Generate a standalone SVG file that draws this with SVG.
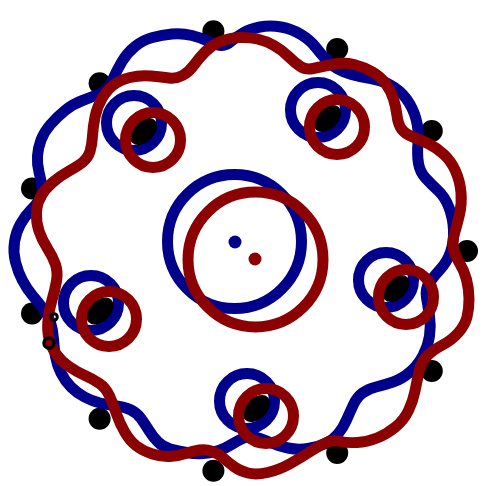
<svg xmlns="http://www.w3.org/2000/svg" width="486" height="486" viewBox="0 0 486 486">
<style>
.b{fill:none;stroke:#00008b;stroke-width:11}
.r{fill:none;stroke:#8b0000;stroke-width:11}
.k{fill:#000}
.m{fill:none;stroke:#000}
</style>
<rect width="486" height="486" fill="#fff"/>
<g id="dots" class="k">
<circle cx="467" cy="251" r="11"/>
<circle cx="431.8" cy="371" r="11"/>
<circle cx="337.2" cy="452.9" r="11"/>
<circle cx="213.4" cy="470.7" r="11"/>
<circle cx="99.6" cy="418.8" r="11"/>
<circle cx="32" cy="313.5" r="11"/>
<circle cx="32" cy="188.5" r="11"/>
<circle cx="99.6" cy="83.2" r="11"/>
<circle cx="213.4" cy="31.3" r="11"/>
<circle cx="337.2" cy="49.1" r="11"/>
<circle cx="431.8" cy="131" r="11"/>
</g>
<g id="blue">
<path class="b" d="M100,93.5 Q108,90 112.5,80 Q117,70 122,61.5 Q127,53 135,46.5 Q143,40 152.5,37.5 Q162,35 172,34 Q182,33 192,35.5 Q202,38 209,41.5 Q216,45 221,45.5 Q226,46 231,41.5 Q236,37 243,33 Q250,29 260,27 Q270,25 281,27 Q292,29 301,34.5 Q310,40 315.5,47 Q321,54 326,59.5 Q331,65 337,68.5 Q343,72 351.5,74.5 Q360,77 370.5,78.5 Q381,80 390.5,85 Q400,90 406.5,99 Q413,108 416,119 Q419,130 418,142.5 Q417,155 418.5,163.5 Q420,172 425.5,178 Q431,184 438,190.5 Q445,197 449,207.5 Q453,218 453.5,230 Q454,242 450.5,252 Q447,262 440.5,269 Q434,276 429.5,282.5 Q425,289 426.5,297.5 Q428,306 429.5,316 Q431,326 429.5,336 Q428,346 423,355.5 Q418,365 410,372 Q402,379 393,382 Q384,385 376,387 Q368,389 362.5,393 Q357,397 353.5,404.5 Q350,412 346.5,420 Q343,428 338,434 Q333,440 325.5,443.5 Q318,447 308,448.5 Q298,450 288,448 Q278,446 269,442 Q260,438 254,437 Q248,436 242.5,438.5 Q237,441 231.5,444.5 Q226,448 219,450.5 Q212,453 203.5,453.5 Q195,454 186.5,452.5 Q178,451 170.5,449 Q163,447 158,442 Q153,437 149,430.5 Q145,424 141,418.5 Q137,413 131,410 Q125,407 116.5,406 Q108,405 100,403 Q92,401 84.5,397 Q77,393 71,387 Q65,381 61,373 Q57,365 55.5,356.5 Q54,348 53.5,339 Q53,330 50.5,322.5 Q48,315 43,308.5 Q38,302 32.5,295.5 Q27,289 22.5,280.5 Q18,272 15.5,262 Q13,252 14.5,242 Q16,232 20.5,224 Q25,216 30.5,210.5 Q36,205 39.5,199.5 Q43,194 42,187 Q41,180 39,172 Q37,164 37.5,156 Q38,148 41,140 Q44,132 50.5,124.5 Q57,117 65,110.5 Q73,104 82.5,100.5 Q92,97 100,93.5 Z"/>
<circle class="b" cx="234.5" cy="241.5" r="67"/>
<circle class="b" cx="134" cy="123" r="27.5"/>
<circle class="b" cx="318" cy="110" r="27.5"/>
<circle class="b" cx="386" cy="280" r="27.5"/>
<circle class="b" cx="247" cy="401" r="27.5"/>
<circle class="b" cx="91" cy="303" r="27.5"/>
<circle cx="235" cy="242" r="6.5" fill="#00008b"/>
</g>
<g id="lenses" class="k">
<ellipse cx="143.5" cy="131.5" rx="16" ry="10.5" transform="rotate(-45 143.5 131.5)"/>
<ellipse cx="327.5" cy="118.5" rx="16" ry="10.5" transform="rotate(-45 327.5 118.5)"/>
<ellipse cx="396" cy="288.5" rx="16" ry="10.5" transform="rotate(-45 396 288.5)"/>
<ellipse cx="256.5" cy="408.5" rx="16" ry="10.5" transform="rotate(-45 256.5 408.5)"/>
<ellipse cx="100" cy="311" rx="16" ry="10.5" transform="rotate(-45 100 311)"/>
</g>
<g id="red">
<path class="r" d="M102,98.5 Q107,90 113.5,85 Q120,80 130,77.5 Q140,75 151,76 Q162,77 169,78 Q176,79 182.5,75.5 Q189,72 194,65 Q199,58 205.5,51.5 Q212,45 220.5,41.5 Q229,38 239,37.5 Q249,37 257.5,39 Q266,41 274,45.5 Q282,50 288.5,56.5 Q295,63 300.5,66.5 Q306,70 313,68.5 Q320,67 332,64.5 Q344,62 354,64.5 Q364,67 372.5,72 Q381,77 386,84 Q391,91 393.5,99 Q396,107 397,115.5 Q398,124 401.5,129 Q405,134 413,137 Q421,140 429,144 Q437,148 444,154.5 Q451,161 455.5,171 Q460,181 461,192.5 Q462,204 459.5,214.5 Q457,225 454.5,233.5 Q452,242 453.5,249 Q455,256 459.5,263 Q464,270 466.5,279.5 Q469,289 469,299 Q469,309 467,317 Q465,325 458.5,332.5 Q452,340 442.5,345 Q433,350 427,356 Q421,362 419,371.5 Q417,381 415,391 Q413,401 408.5,410.5 Q404,420 395.5,427 Q387,434 377,438 Q367,442 357,442.5 Q347,443 340.5,441.5 Q334,440 328,442 Q322,444 312,450.5 Q302,457 290.5,463.5 Q279,470 267.5,472.5 Q256,475 248,473 Q240,471 234.5,467 Q229,463 224,458.5 Q219,454 212.5,451.5 Q206,449 199.5,450 Q193,451 185.5,453.5 Q178,456 170,456.5 Q162,457 152.5,454 Q143,451 136.5,446 Q130,441 125,432.5 Q120,424 116.5,414 Q113,404 109.5,396 Q106,388 99.5,383.5 Q93,379 85,375.5 Q77,372 69,366.5 Q61,361 56,354 Q51,347 49,338.5 Q47,330 48,320 Q49,310 52,300 Q55,290 56.5,281 Q58,272 55.5,264.5 Q53,257 47.5,248.5 Q42,240 39,231 Q36,222 36.5,212.5 Q37,203 41,196 Q45,189 52.5,182.5 Q60,176 69,171 Q78,166 83,162 Q88,158 90,151.5 Q92,145 92.5,136 Q93,127 95,117 Q97,107 102,98.5 Z"/>
<circle class="r" cx="255.5" cy="259.5" r="67.5"/>
<circle class="r" cx="153" cy="140" r="27.5"/>
<circle class="r" cx="337" cy="127" r="27.5"/>
<circle class="r" cx="406" cy="297" r="27.5"/>
<circle class="r" cx="266" cy="416" r="27.5"/>
<circle class="r" cx="109" cy="319" r="27.5"/>
<circle cx="255" cy="259" r="6.5" fill="#8b0000"/>
</g>
<g id="markers" class="m">
<circle cx="54" cy="317" r="3.3" stroke-width="3"/>
<circle cx="49" cy="343" r="5" stroke-width="3.5"/>
</g>
</svg>
